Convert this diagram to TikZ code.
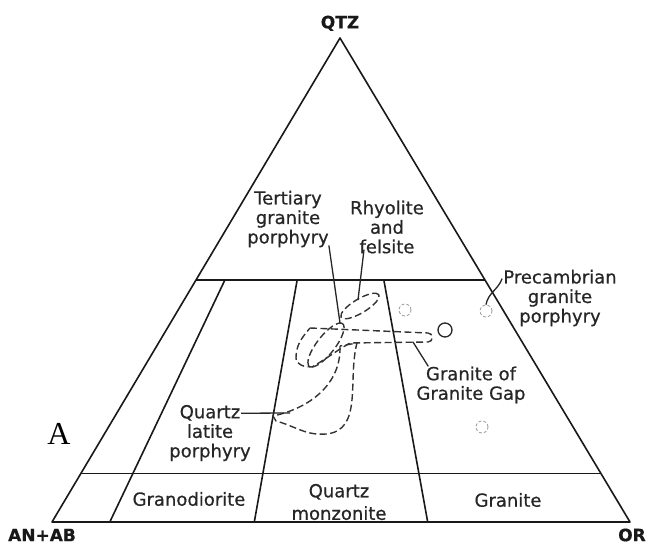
\documentclass[tikz,border=0pt]{standalone}
\usepackage{fontspec}
\newfontfamily\labfont[FakeBold=0.6]{DejaVu Sans}
\newfontfamily\bigfont{Liberation Serif}
\usetikzlibrary{calc, positioning}

\tikzset{
  tri/.style={line width=1.6pt, draw=black!90, line join=round},
  field/.style={line width=1.4pt, dash pattern=on 7pt off 3.5pt, draw=black!80},
  lead/.style={line width=1.3pt, draw=black!85},
  lab/.style={font=\labfont\fontsize{18}{19.5}\selectfont, align=center, inner sep=0pt, text=black!85},
  vlab/.style={font=\labfont\bfseries\fontsize{17}{19}\selectfont, inner sep=0pt, text=black!90},
  spot/.style={circle, draw=black!40, densely dashed, line width=0.8pt, minimum size=12pt, inner sep=0pt},
  ring/.style={circle, draw=black!85, line width=1.3pt, minimum size=14pt, inner sep=0pt}
}

\begin{document}
\begin{tikzpicture}[x=1pt, y=1pt]
\useasboundingbox (0,0) rectangle (648,544);

\coordinate (Q) at (340,506);
\coordinate (A) at (52,22);
\coordinate (O) at (630,22);

\draw[tri] (Q) -- (A) -- (O) -- cycle;
\draw[tri] ($(Q)!0.5!(A)$) -- ($(Q)!0.5!(O)$);
\draw[tri] ($(Q)!0.9!(A)$) -- ($(Q)!0.9!(O)$);
\foreach \f in {0.1, 0.35, 0.65} {
  \coordinate (b) at ($(A)!\f!(O)$);
  \draw[tri] ($(Q)!0.5!(b)$) -- (b);
}

\node[vlab, above=7pt of Q] (qtz) {QTZ};
\node[vlab] (anab) at (42,9) {AN+AB};
\node[vlab] (or) at (632,9) {OR};
\node[font=\bigfont\fontsize{32}{32}\selectfont, inner sep=0pt] (pan) at (59,110) {A};

% fields
\draw[field, rotate around={31:(360,238)}] (360,238) ellipse [x radius=22, y radius=7];
\draw[field, rotate around={52:(326,199)}] (326,199) ellipse [x radius=27, y radius=9];
\draw[field] (310,216) -- (428,211) to[out=0,in=0,looseness=1.6] (428,202) -- (350,201)
  to[out=210,in=30] (312,177) to[out=180,in=-90] (296,186) to[out=90,in=230] (310,216);
\draw[field] (340,198) to[out=-88,in=12] (273,128) -- (276,123)
  to[out=-15,in=185] (326,110) to[out=5,in=-105] (357,201) -- cycle;

\coordinate (t1) at (340,221);
\coordinate (r1) at (358,244);
\coordinate (g1) at (413,202);
\coordinate (q1) at (290,131);

\node[ring] (c0) at (445,214) {};
\node[spot] (c1) at (405,234) {};
\node[spot] (c2) at (486,233) {};
\node[spot] (c3) at (482,117) {};

\node[lab] (tert) at (288,325) {Tertiary\\granite\\porphyry};
\node[lab] (rhyo) at (387,317) {Rhyolite\\and\\felsite};
\node[lab] (prec) at (560,246) {Precambrian\\granite\\porphyry};
\node[lab] (ggap) at (471,159) {Granite of\\Granite Gap};
\node[lab] (qlat) at (210,111) {Quartz\\latite\\porphyry};
\node[lab] (grano) at (189,45) {Granodiorite};
\node[lab] (qmonz) at (339,42) {Quartz\\[3pt]monzonite};
\node[lab] (gran) at (508,44) {Granite};

\draw[lead] ($(tert.south east)+(0,2)$) -- (t1);
\draw[lead] ($(rhyo.south)+(-23,4)$) -- (r1);
\draw[lead] ($(prec.north west)+(-1,-9)$) to[out=-110,in=80] (c2.north);
\draw[lead] (g1) -- ($(ggap.north west)+(12,0)$);
\draw[lead] ($(qlat.north)+(31,-8.5)$) -- (q1);
\end{tikzpicture}
\end{document}
